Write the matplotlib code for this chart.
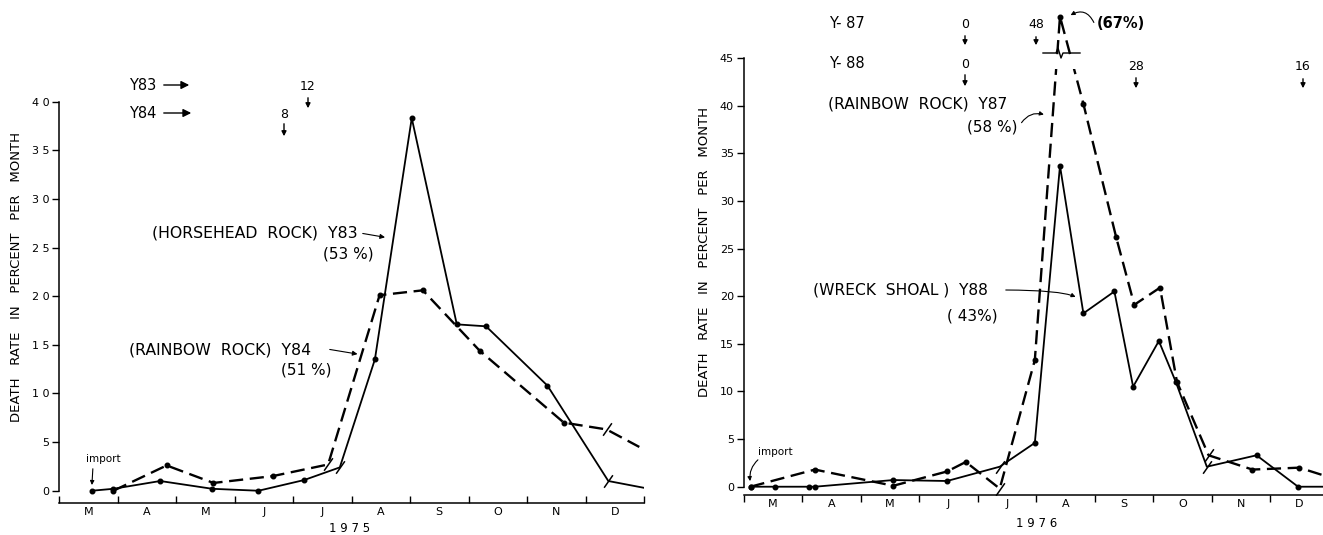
import numpy as np
import matplotlib
matplotlib.use('Agg')
import matplotlib.pyplot as plt
from matplotlib.lines import Line2D
from matplotlib.patches import Rectangle
from matplotlib.path import Path

W, H = 1323, 535
months = ['M', 'A', 'M', 'J', 'J', 'A', 'S', 'O', 'N', 'D']
yticks_left = [0, 5, 10, 15, 20, 25, 30, 35, 40]
yticks_right = [0, 5, 10, 15, 20, 25, 30, 35, 40, 45]

# ---- 1975 panel (x in months since start of March) ----
y83_x = [0.56, 0.93, 1.73, 2.62, 3.41, 4.19, 4.80, 5.40, 6.03, 6.80, 7.30, 8.35, 9.39, 10.0]
y83_v = [0.0, 0.2, 1.0, 0.2, 0.0, 1.1, 2.4, 13.5, 38.3, 17.1, 16.9, 10.8, 1.0, 0.3]
y83_slash = [6, 12]
y84_x = [0.93, 1.84, 2.64, 3.65, 4.60, 5.48, 6.22, 7.19, 8.63, 9.36, 9.92]
y84_v = [0.0, 2.6, 0.8, 1.5, 2.7, 20.1, 20.6, 14.4, 7.0, 6.3, 4.5]
y84_slash = [4, 9]

# ---- 1976 panel ----
y88_x = [0.12, 0.53, 1.12, 1.22, 2.56, 3.48, 4.38, 4.98, 5.41, 5.81, 6.34, 6.66, 7.10, 7.39, 7.92, 8.77, 9.48, 9.91]
y88_v = [0.0, 0.0, 0.0, 0.0, 0.7, 0.6, 2.1, 4.6, 33.7, 18.2, 20.5, 10.5, 15.3, 11.0, 2.1, 3.3, 0.0, 0.0]
y88_slash = [6, 14]
y87_x = [0.12, 1.22, 2.56, 3.48, 3.80, 4.38, 4.98, 5.41, 5.81, 6.37, 6.68, 7.12, 7.41, 7.95, 8.70, 9.50, 9.91]
y87_v = [0.0, 1.8, 0.1, 1.6, 2.6, -0.2, 13.3, 67.0, 40.2, 26.2, 19.1, 20.9, 11.0, 3.3, 1.8, 2.0, 1.2]
y87_slash = [5, 13]

plt.rcParams['font.family'] = ['DejaVu Sans']

fig = plt.figure(figsize=(W / 100, H / 100), dpi=100)
fig.patch.set_facecolor('white')

slash = Path([(-0.7, -1.0), (0.7, 1.0)], [Path.MOVETO, Path.LINETO])


def P(x, y):
    return (x, H - y)


def txt(x, y, s, size=10.5, ha='center', va='center', **kw):
    fig.text(x / W, 1 - y / H, s, fontsize=size, ha=ha, va=va, **kw)


def arrow_pix(x0, y0, x1, y1, style='-|>', rad=0.0, lw=1.0, ms=9):
    fig.add_artist(matplotlib.patches.FancyArrowPatch(
        P(x0, y0), P(x1, y1), transform=None, arrowstyle=style,
        mutation_scale=ms, color='black', lw=lw,
        connectionstyle=f'arc3,rad={rad}'))


def style_axes(ax, ymax):
    for s in ['top', 'right']:
        ax.spines[s].set_visible(False)
    ax.spines['left'].set_bounds(0, ymax)
    ax.set_xlim(0, 10)
    ax.set_xticks(np.arange(0, 11))
    ax.set_xticklabels([])
    ax.set_xticks(np.arange(0.5, 10), minor=True)
    ax.set_xticklabels(months, minor=True, fontsize=8)
    ax.tick_params(axis='x', which='minor', length=0, pad=3)
    ax.tick_params(axis='y', labelsize=8, length=5, width=1, pad=2)
    for s in ['left', 'bottom']:
        ax.spines[s].set_linewidth(1.1)


def draw_series(ax, x, v, slashes, dashed):
    kw = dict(color='black', lw=1.7 if dashed else 1.3, zorder=3)
    if dashed:
        kw['dashes'] = (6, 2.8)
    ax.plot(x, v, **kw)
    dots = [i for i in range(len(x) - 1) if i not in slashes]
    ax.plot([x[i] for i in dots], [v[i] for i in dots], 'o', color='black',
            ms=3.3, zorder=4)
    ax.plot([x[i] for i in slashes], [v[i] for i in slashes], ls='none',
            marker=slash, ms=9, mew=1.1, color='black', zorder=4)


YLABEL = 'DEATH   RATE   IN   PERCENT   PER   MONTH'

# ---------------- left panel ----------------
ax1 = fig.add_axes([59 / W, 1 - 503 / H, 585 / W, (503 - 50) / H])
ax1.set_ylim(-1.26, 45.3)
style_axes(ax1, 40)
ax1.set_yticks(yticks_left)
ax1.set_yticklabels([' '.join(str(t)) for t in yticks_left])
ax1.tick_params(axis='x', which='major', direction='in', length=5, width=1)
draw_series(ax1, y83_x, y83_v, y83_slash, dashed=False)
draw_series(ax1, y84_x, y84_v, y84_slash, dashed=True)

txt(17, 277, YLABEL, size=9.5, rotation=90)
txt(350, 528, '1 9 7 5', size=8.5)

txt(143, 85, 'Y83', size=10.5)
arrow_pix(161, 85, 192, 85, ms=12)
txt(143, 113, 'Y84', size=10.5)
arrow_pix(161, 113, 194, 113, ms=12)
txt(308, 87, '12', size=9)
arrow_pix(308, 95, 308, 111, ms=7)
txt(284, 114, '8', size=9)
arrow_pix(284, 121, 284, 139, ms=7)

txt(152, 233, '(HORSEHEAD  ROCK)  Y83', size=11.3, ha='left')
ax1.annotate('', xy=(5.62, 26.0), xytext=P(360, 233), textcoords='figure pixels',
             arrowprops=dict(arrowstyle='-|>', color='black', lw=0.8, mutation_scale=7))
txt(348, 254, '(53 %)', size=11)
txt(129, 350, '(RAINBOW  ROCK)  Y84', size=11.3, ha='left')
ax1.annotate('', xy=(5.15, 14.0), xytext=P(327, 349), textcoords='figure pixels',
             arrowprops=dict(arrowstyle='-|>', color='black', lw=0.8, mutation_scale=7))
txt(306, 370, '(51 %)', size=11)
txt(103, 459, 'import', size=7.5)
ax1.annotate('', xy=(0.56, 0.3), xytext=P(93, 466), textcoords='figure pixels',
             arrowprops=dict(arrowstyle='-|>', color='black', lw=0.8, mutation_scale=6))

# ---------------- right panel ----------------
BRK, SQ = 46.0, 0.16


def fwd(v):
    v = np.asarray(v, dtype=float)
    return np.where(v <= BRK, v, BRK + (v - BRK) * SQ)


def inv(y):
    y = np.asarray(y, dtype=float)
    return np.where(y <= BRK, y, BRK + (y - BRK) / SQ)


ax2 = fig.add_axes([743.5 / W, 1 - 495 / H, 585 / W, 495 / H])
ax2.set_yscale('function', functions=(fwd, inv))
ax2.set_ylim(-0.87, float(inv(51.1)))
style_axes(ax2, 45)
ax2.set_yticks(yticks_right)
ax2.set_yticklabels([str(t) for t in yticks_right])
ax2.yaxis.set_minor_locator(matplotlib.ticker.NullLocator())
ax2.tick_params(axis='x', which='major', direction='out', length=5, width=1)
draw_series(ax2, y88_x, y88_v, y88_slash, dashed=False)
draw_series(ax2, y87_x, y87_v, y87_slash, dashed=True)

# axis break on the Y87 peak
fig.add_artist(Rectangle((1046, H - 69), 34, 14, transform=None,
                         facecolor='white', edgecolor='none', zorder=10))
fig.add_artist(Line2D([1043, 1056, 1058, 1061, 1063, 1080],
                      [H - 53, H - 53, H - 48, H - 58, H - 53, H - 53],
                      transform=None, color='black', lw=1.0, zorder=11))

txt(705, 252, YLABEL, size=9.5, rotation=90)
txt(1037, 517, '1 9 7 6', size=8.5, va='top')

txt(847, 24, 'Y- 87', size=10.5)
txt(847, 63, 'Y- 88', size=10.5)
txt(965, 25, '0', size=9)
arrow_pix(965, 33, 965, 48, ms=7)
txt(965, 64, '0', size=9)
arrow_pix(965, 72, 965, 89, ms=7)
txt(1036, 25, '48', size=9)
arrow_pix(1036, 34, 1036, 48, ms=7)
txt(1136, 66, '28', size=9)
arrow_pix(1136, 75, 1136, 91, ms=7)
txt(1303, 67, '16', size=9)
arrow_pix(1303, 76, 1303, 91, ms=7)

txt(1097, 24, '(67%)', size=10.5, ha='left', fontweight='bold')
ax2.annotate('', xy=(5.55, 67.0), xytext=P(1095, 25), textcoords='figure pixels',
             arrowprops=dict(arrowstyle='-|>', color='black', lw=0.8, mutation_scale=6,
                             connectionstyle='arc3,rad=0.6'))
txt(828, 104, '(RAINBOW  ROCK)  Y87', size=11.2, ha='left')
txt(992, 127, '(58 %)', size=11)
ax2.annotate('', xy=(5.18, 39.0), xytext=P(1020, 125), textcoords='figure pixels',
             arrowprops=dict(arrowstyle='-|>', color='black', lw=0.8, mutation_scale=6,
                             connectionstyle='arc3,rad=-0.4'))
txt(813, 290, '(WRECK  SHOAL )  Y88', size=11.2, ha='left')
txt(972, 316, '( 43%)', size=11)
ax2.annotate('', xy=(5.72, 19.8), xytext=P(1003, 290), textcoords='figure pixels',
             arrowprops=dict(arrowstyle='-|>', color='black', lw=0.8, mutation_scale=6,
                             connectionstyle='angle3,angleA=0,angleB=-30'))
txt(775, 452, 'import', size=7.5)
ax2.annotate('', xy=(0.12, 0.3), xytext=P(760, 458), textcoords='figure pixels',
             arrowprops=dict(arrowstyle='-|>', color='black', lw=0.8, mutation_scale=6,
                             connectionstyle='arc3,rad=0.3'))

fig.savefig('out.png', dpi=100, facecolor='white')
